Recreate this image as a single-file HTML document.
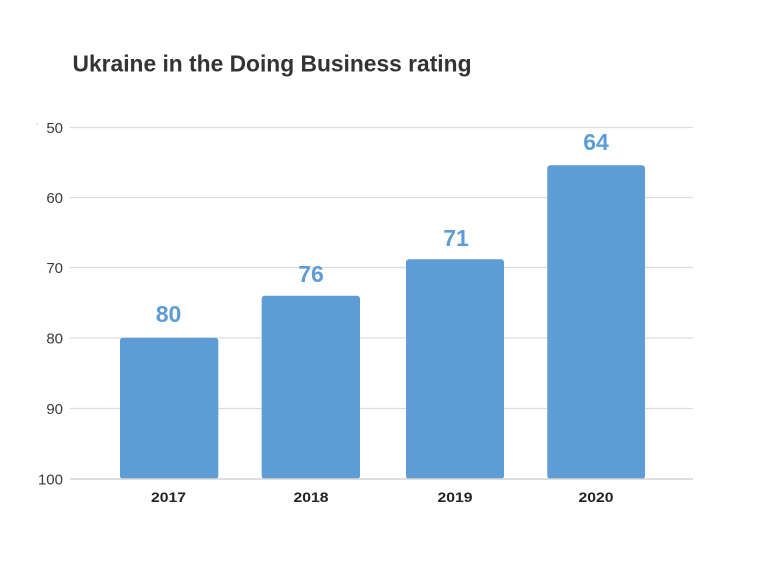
<!DOCTYPE html>
<html><head><meta charset="utf-8"><style>
html,body{margin:0;padding:0;background:#fff;}
svg{display:block;}
</style></head><body>
<svg width="760" height="582" viewBox="0 0 760 582" xmlns="http://www.w3.org/2000/svg" font-family="Liberation Sans, Arial, sans-serif">
<rect width="760" height="582" fill="#fff"/>
<text x="72.5" y="71.5" font-size="23" font-weight="bold" fill="#333" textLength="399" lengthAdjust="spacingAndGlyphs">Ukraine in the Doing Business rating</text>
<circle cx="37" cy="124" r="0.8" fill="#bbb"/>
<g stroke="#dcdcdc" stroke-width="1.2">
<line x1="70" y1="127.5" x2="693" y2="127.5"/>
<line x1="70" y1="197.5" x2="693" y2="197.5"/>
<line x1="70" y1="267.5" x2="693" y2="267.5"/>
<line x1="70" y1="338" x2="693" y2="338"/>
<line x1="70" y1="408.5" x2="693" y2="408.5"/>
</g>
<g font-size="15" fill="#3a3a3a" text-anchor="end">
<text x="63" y="133">50</text>
<text x="63" y="203">60</text>
<text x="63" y="273">70</text>
<text x="63" y="343.5">80</text>
<text x="63" y="414">90</text>
<text x="63" y="484.5">100</text>
</g>
<g fill="#5e9cd6">
<rect x="120" y="337.7" width="98.3" height="141.3" rx="3"/>
<rect x="261.7" y="295.7" width="98.3" height="183.3" rx="3"/>
<rect x="406" y="259.3" width="98" height="219.7" rx="3"/>
<rect x="547.3" y="165.3" width="97.7" height="313.7" rx="3"/>
</g>
<line x1="70" y1="479" x2="693" y2="479" stroke="#d4d4d4" stroke-width="1.5"/>
<g font-size="23" font-weight="bold" fill="#5e9cd6" text-anchor="middle">
<text x="168.5" y="322">80</text>
<text x="311" y="282">76</text>
<text x="456" y="246">71</text>
<text x="596" y="150">64</text>
</g>
<g font-size="13.5" font-weight="bold" fill="#222" text-anchor="middle">
<text x="168.5" y="502" textLength="35" lengthAdjust="spacingAndGlyphs">2017</text>
<text x="311" y="502" textLength="35" lengthAdjust="spacingAndGlyphs">2018</text>
<text x="455" y="502" textLength="35" lengthAdjust="spacingAndGlyphs">2019</text>
<text x="596" y="502" textLength="35" lengthAdjust="spacingAndGlyphs">2020</text>
</g>
</svg>
</body></html>
